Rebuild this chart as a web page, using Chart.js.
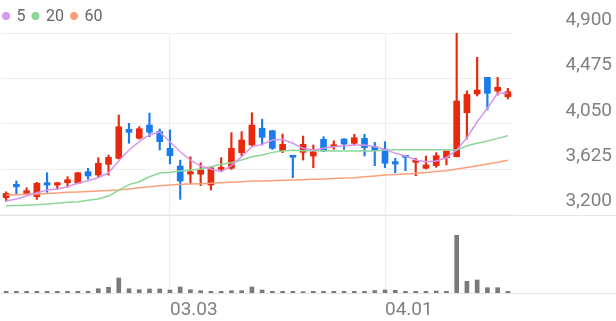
<!DOCTYPE html>
<html>
<head>
<meta charset="utf-8">
<script src="https://cdn.jsdelivr.net/npm/chart.js@4"></script>
<style>
  html, body { margin: 0; padding: 0; background: #fff; }
  #wrap { width: 616px; height: 321px; }
</style>
</head>
<body>
<div id="wrap"><canvas id="stockChart"></canvas></div>
<script>
const dates = ['02.04','02.05','02.08','02.09','02.10','02.15','02.16','02.17','02.18','02.19',
  '02.22','02.23','02.24','02.25','02.26','03.02','03.03','03.04','03.05','03.08',
  '03.09','03.10','03.11','03.12','03.15','03.16','03.17','03.18','03.19','03.22',
  '03.23','03.24','03.25','03.26','03.29','03.30','03.31','04.01','04.02','04.05',
  '04.06','04.07','04.08','04.09','04.12','04.13','04.14','04.15','04.16','04.19'];
const shownDates = ['03.03', '04.01'];

const openP = [3357,3483,3398,3367,3498,3476,3498,3492,3601,3570,3670,3726,3998,3914,4038,3976,3820,3654,3579,3577,
  3476,3623,3633,3779,3851,4007,3985,3798,3748,3782,3748,3904,3835,3907,3867,3913,3835,3813,3695,3748,
  3689,3633,3657,3732,3741,4153,4329,4485,4357,4303];
const closeP = [3398,3460,3423,3492,3476,3498,3526,3591,3561,3680,3735,4022,3970,4004,3970,3882,3751,3514,3601,3617,
  3638,3638,3820,3898,4038,3923,3820,3857,3736,3857,3788,3795,3851,3860,3919,3826,3804,3680,3673,3736,
  3701,3664,3751,3795,4263,4325,4366,4335,4391,4350];
const highP = [3413,3514,3451,3501,3591,3500,3554,3595,3633,3732,3757,4132,4054,4022,4150,4001,3993,3710,3741,3685,
  3640,3732,3966,3976,4153,4092,3990,3954,3748,3935,3851,3929,3891,3910,3951,3951,3876,3882,3726,3748,
  3726,3748,3779,3795,4900,4357,4672,4485,4485,4382];
const lowP = [3326,3389,3383,3342,3408,3436,3455,3488,3530,3554,3570,3720,3867,3907,3929,3804,3673,3342,3492,3470,
  3429,3610,3623,3748,3842,3851,3810,3779,3545,3710,3638,3788,3810,3810,3851,3748,3657,3638,3591,3610,
  3563,3626,3642,3664,3740,3907,4310,4179,4319,4282];
const volume = [34,34,34,34,34,34,34,34,34,86,114,300,86,66,80,80,60,120,66,46,
  34,34,46,46,120,60,34,34,34,26,34,34,34,34,34,34,50,60,54,34,
  34,34,40,34,1154,234,260,106,106,34];

const ma5 = [3326,3345,3373,3404,3429,3439,3460,3492,3517,3545,3591,3701,3804,3882,3945,3973,3882,3788,3710,3654,
  3626,3601,3657,3741,3835,3857,3898,3904,3867,3820,3804,3820,3835,3844,3851,3851,3835,3810,3773,3748,
  3710,3695,3701,3732,3804,3919,4069,4195,4335,4335];
const ma20 = [3282,3284,3287,3291,3298,3305,3314,3320,3333,3345,3373,3429,3480,3507,3554,3588,3595,3607,3617,3626,
  3648,3670,3685,3710,3741,3757,3782,3795,3801,3798,3798,3798,3795,3795,3795,3795,3795,3805,3807,3807,
  3807,3807,3807,3807,3804,3844,3867,3888,3913,3938];
const ma60 = [3383,3386,3389,3392,3397,3402,3408,3412,3416,3420,3425,3429,3439,3450,3460,3470,3476,3483,3486,3489,
  3492,3498,3503,3508,3514,3514,3517,3520,3523,3526,3530,3533,3537,3541,3545,3553,3561,3570,3575,3580,
  3586,3594,3602,3610,3626,3641,3657,3673,3689,3708];

const priceTicks = [3200, 3625, 4050, 4475, 4900];

const UP = '#e8290d';
const DOWN = '#1a7bef';
const candleColor = (ctx) => closeP[ctx.dataIndex] >= openP[ctx.dataIndex] ? UP : DOWN;

// small legend in the top-left corner + full width pane borders
const extras = {
  id: 'extras',
  afterDraw(chart) {
    const c = chart.ctx;
    const yScale = chart.scales.y;
    c.save();
    c.strokeStyle = '#e6e6e6';
    c.lineWidth = 1;
    [Math.round(yScale.getPixelForValue(3200)) + 0.5, Math.round(chart.chartArea.bottom) + 0.5].forEach(py => {
      c.beginPath();
      c.moveTo(0, py);
      c.lineTo(chart.width, py);
      c.stroke();
    });

    c.font = '16px Roboto';
    c.textBaseline = 'middle';
    let x = 6; // dot centre
    chart.data.datasets.filter(d => d.type === 'line').forEach(d => {
      c.fillStyle = d.borderColor;
      c.beginPath();
      c.arc(x, 16, 4, 0, Math.PI * 2);
      c.fill();
      c.fillStyle = '#666';
      c.fillText(d.label, x + 10.5, 16.5);
      x += 10.5 + c.measureText(d.label).width + 10;
    });
    c.restore();
  }
};

const ctx = document.getElementById('stockChart').getContext('2d');
new Chart(ctx, {
  data: {
    labels: dates,
    datasets: [
      { type: 'line', label: '5', data: ma5, borderColor: 'rgb(214,150,240)', borderWidth: 1.5, pointRadius: 0, yAxisID: 'y', order: 0 },
      { type: 'line', label: '20', data: ma20, borderColor: 'rgb(140,214,152)', borderWidth: 1.5, pointRadius: 0, yAxisID: 'y', order: 0 },
      { type: 'line', label: '60', data: ma60, borderColor: 'rgb(249,160,122)', borderWidth: 1.5, pointRadius: 0, yAxisID: 'y', order: 0 },
      {
        type: 'bar', label: 'body', yAxisID: 'y', order: 1,
        data: openP.map((o, i) => [o, closeP[i]]),
        backgroundColor: candleColor, barThickness: 6, minBarLength: 2, grouped: false
      },
      {
        type: 'bar', label: 'wick', yAxisID: 'y', order: 2,
        data: lowP.map((l, i) => [l, highP[i]]),
        backgroundColor: candleColor, barThickness: 1.5, grouped: false
      },
      {
        type: 'bar', label: 'volume', yAxisID: 'y2', order: 3,
        data: volume, backgroundColor: '#7a7a7a', barThickness: 4, grouped: false
      }
    ]
  },
  options: {
    responsive: true,
    maintainAspectRatio: false,
    animation: false,
    layout: { padding: { top: 33, left: 1, right: 4, bottom: 0 } },
    plugins: {
      legend: { display: false },
      tooltip: { enabled: false }
    },
    scales: {
      x: {
        type: 'category',
        offset: true,
        border: { display: false },
        grid: {
          offset: false,
          drawTicks: false,
          color: (c) => c.tick && shownDates.includes(dates[c.tick.value]) ? '#eeeeee' : 'rgba(0,0,0,0)'
        },
        ticks: {
          autoSkip: false,
          maxRotation: 0,
          align: 'start',
          padding: 6,
          color: '#808080',
          font: { family: 'Roboto', size: 19 },
          callback: (v, i) => shownDates.includes(dates[i]) ? dates[i] : ''
        },
        afterFit: (s) => { s.height = 28; s.paddingLeft = 0; s.paddingRight = 0; }
      },
      y: {
        position: 'right',
        min: 2465,
        max: 4900,
        border: { display: false },
        afterBuildTicks: (s) => { s.ticks = priceTicks.map(v => ({ value: v })); },
        afterFit: (s) => { s.width = 99; s.paddingTop = 0; s.paddingBottom = 0; },
        grid: { drawTicks: false, color: '#eeeeee' },
        ticks: {
          crossAlign: 'far',
          padding: 48,
          labelOffset: -13,
          color: '#808080',
          font: { family: 'Roboto', size: 19 },
          callback: (v) => v.toLocaleString('en-US')
        }
      },
      y2: {
        display: false,
        min: 0,
        max: 5200
      }
    }
  },
  plugins: [extras]
});
</script>
</body>
</html>
